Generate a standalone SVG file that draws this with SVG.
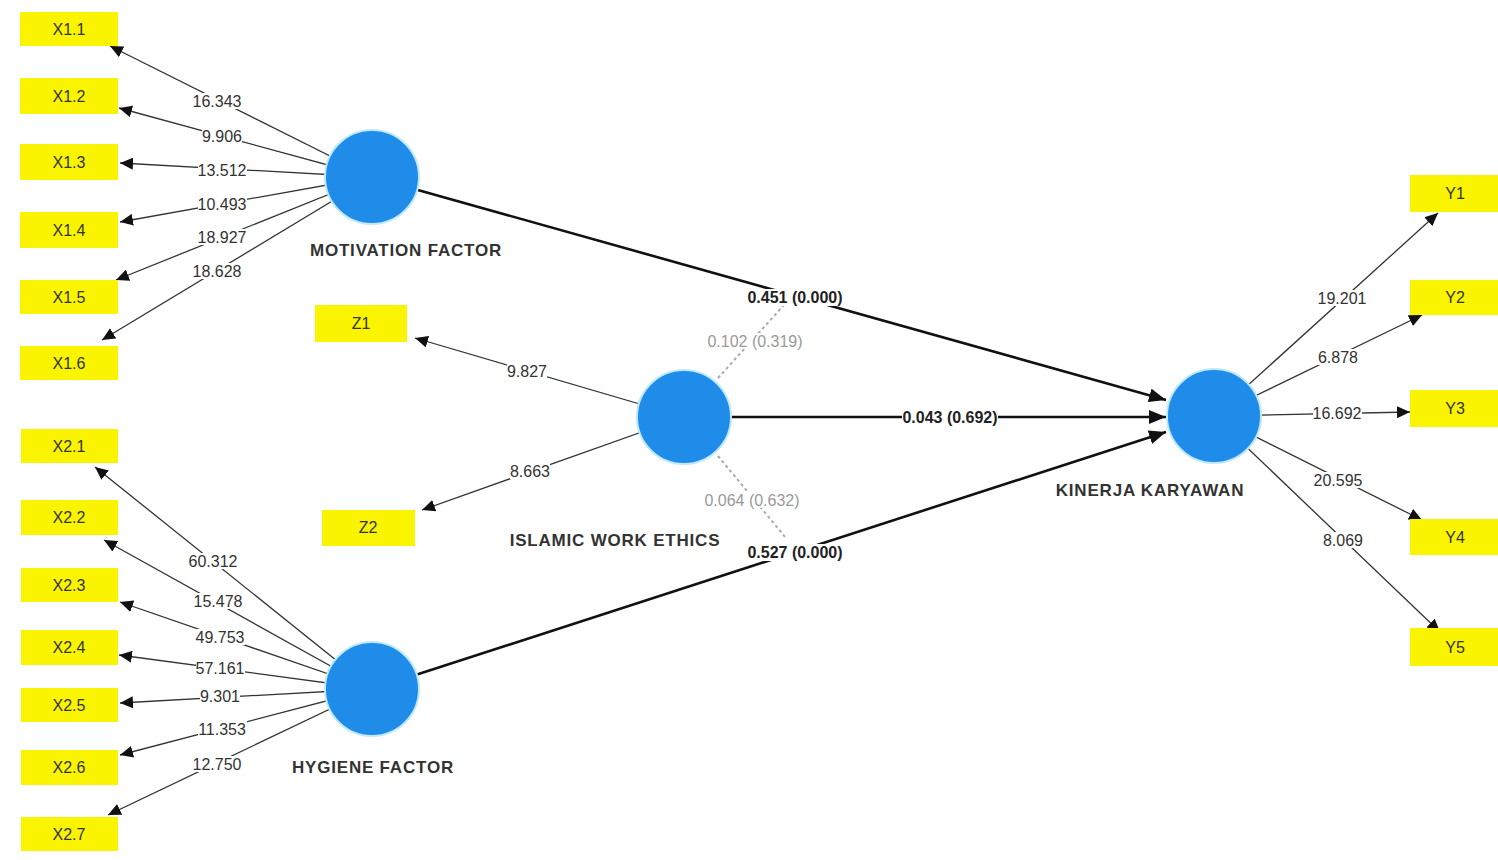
<svg xmlns="http://www.w3.org/2000/svg" width="1498" height="860" viewBox="0 0 1498 860">
<style>
.box{fill:#FAF400;}
.bt{font-family:"Liberation Sans",Arial,sans-serif;font-size:16px;fill:#333;text-anchor:middle;dominant-baseline:central;}
.lv{font-family:"Liberation Sans",Arial,sans-serif;font-size:16px;fill:#333;text-anchor:middle;dominant-baseline:central;}
.pv{font-family:"Liberation Sans",Arial,sans-serif;font-size:16px;font-weight:bold;fill:#222;text-anchor:middle;dominant-baseline:central;}
.gv{font-family:"Liberation Sans",Arial,sans-serif;font-size:16px;fill:#9a9a9a;text-anchor:middle;dominant-baseline:central;}
.bg{fill:#fff;}
.nl{font-family:"Liberation Sans",Arial,sans-serif;font-size:17px;font-weight:bold;letter-spacing:0.8px;fill:#333;text-anchor:middle;dominant-baseline:central;}
.ld{stroke:#333;stroke-width:1.3;fill:none;marker-end:url(#a);}
.pt{stroke:#111;stroke-width:2.6;fill:none;marker-end:url(#b);}
.ds{stroke:#aaa;stroke-width:2;stroke-dasharray:3 3;fill:none;}
.lv-c{fill:#1E8CE8;stroke:#BFE8FF;stroke-width:2;}
</style>
<defs>
<marker id="a" markerUnits="userSpaceOnUse" markerWidth="14" markerHeight="12" refX="13" refY="6" orient="auto"><path d="M0,0 L13,6 L0,12 z" fill="#111"/></marker>
<marker id="b" markerUnits="userSpaceOnUse" markerWidth="18" markerHeight="14" refX="17" refY="7" orient="auto"><path d="M0,0 L17,7 L0,14 z" fill="#111"/></marker>
</defs>
<rect width="1498" height="860" fill="#fff"/>
<g id="connectors">
<line class="ld" x1="372" y1="177" x2="110" y2="46"/>
<line class="ld" x1="372" y1="177" x2="119" y2="108"/>
<line class="ld" x1="372" y1="177" x2="120" y2="163"/>
<line class="ld" x1="372" y1="177" x2="120" y2="222"/>
<line class="ld" x1="372" y1="177" x2="116" y2="280"/>
<line class="ld" x1="372" y1="177" x2="102" y2="340"/>
<line class="ld" x1="372" y1="689" x2="95" y2="467"/>
<line class="ld" x1="372" y1="689" x2="104" y2="540"/>
<line class="ld" x1="372" y1="689" x2="120" y2="602"/>
<line class="ld" x1="372" y1="689" x2="119" y2="655"/>
<line class="ld" x1="372" y1="689" x2="120" y2="703"/>
<line class="ld" x1="372" y1="689" x2="120" y2="755"/>
<line class="ld" x1="372" y1="689" x2="108" y2="815"/>
<line class="ld" x1="684" y1="417" x2="415" y2="338"/>
<line class="ld" x1="684" y1="417" x2="422" y2="510"/>
<line class="ld" x1="1214" y1="416" x2="1438" y2="213"/>
<line class="ld" x1="1214" y1="416" x2="1422" y2="315"/>
<line class="ld" x1="1214" y1="416" x2="1410" y2="412"/>
<line class="ld" x1="1214" y1="416" x2="1422" y2="520"/>
<line class="ld" x1="1214" y1="416" x2="1440" y2="632"/>
<line class="pt" x1="400" y1="184.9" x2="1166" y2="400"/>
<line class="pt" x1="700" y1="417" x2="1166" y2="417"/>
<line class="pt" x1="400" y1="680" x2="1166" y2="432"/>
<line class="ds" x1="718" y1="378" x2="784" y2="305"/>
<line class="ds" x1="718" y1="456" x2="786" y2="538"/>
<rect class="bg" x="193" y="93" width="49" height="16"/><text class="lv" x="217" y="101">16.343</text>
<rect class="bg" x="202" y="128" width="40" height="16"/><text class="lv" x="222" y="136">9.906</text>
<rect class="bg" x="198" y="162" width="49" height="16"/><text class="lv" x="222" y="170">13.512</text>
<rect class="bg" x="198" y="196" width="49" height="16"/><text class="lv" x="222" y="204">10.493</text>
<rect class="bg" x="198" y="229" width="49" height="16"/><text class="lv" x="222" y="237">18.927</text>
<rect class="bg" x="193" y="263" width="49" height="16"/><text class="lv" x="217" y="271">18.628</text>
<rect class="bg" x="189" y="553" width="49" height="16"/><text class="lv" x="213" y="561">60.312</text>
<rect class="bg" x="194" y="593" width="49" height="16"/><text class="lv" x="218" y="601">15.478</text>
<rect class="bg" x="196" y="629" width="49" height="16"/><text class="lv" x="220" y="637">49.753</text>
<rect class="bg" x="196" y="660" width="49" height="16"/><text class="lv" x="220" y="668">57.161</text>
<rect class="bg" x="200" y="688" width="40" height="16"/><text class="lv" x="220" y="696">9.301</text>
<rect class="bg" x="198" y="721" width="49" height="16"/><text class="lv" x="222" y="729">11.353</text>
<rect class="bg" x="193" y="756" width="49" height="16"/><text class="lv" x="217" y="764">12.750</text>
<rect class="bg" x="507" y="363" width="40" height="16"/><text class="lv" x="527" y="371">9.827</text>
<rect class="bg" x="510" y="463" width="40" height="16"/><text class="lv" x="530" y="471">8.663</text>
<rect class="bg" x="1318" y="290" width="49" height="16"/><text class="lv" x="1342" y="298">19.201</text>
<rect class="bg" x="1318" y="349" width="40" height="16"/><text class="lv" x="1338" y="357">6.878</text>
<rect class="bg" x="1313" y="405" width="49" height="16"/><text class="lv" x="1337" y="413">16.692</text>
<rect class="bg" x="1314" y="472" width="49" height="16"/><text class="lv" x="1338" y="480">20.595</text>
<rect class="bg" x="1323" y="532" width="40" height="16"/><text class="lv" x="1343" y="540">8.069</text>
<rect class="bg" x="747" y="289" width="96" height="17"/><text class="pv" x="795" y="297">0.451 (0.000)</text>
<rect class="bg" x="902" y="409" width="96" height="17"/><text class="pv" x="950" y="417">0.043 (0.692)</text>
<rect class="bg" x="747" y="544" width="96" height="17"/><text class="pv" x="795" y="552">0.527 (0.000)</text>
<rect class="bg" x="707" y="333" width="96" height="16"/><text class="gv" x="755" y="341">0.102 (0.319)</text>
<rect class="bg" x="704" y="492" width="96" height="16"/><text class="gv" x="752" y="500">0.064 (0.632)</text>
</g>
<g id="X1.1"><rect class="box" x="20" y="12" width="98" height="34"/><text class="bt" x="69" y="29">X1.1</text></g>
<g id="X1.2"><rect class="box" x="20" y="78" width="98" height="36"/><text class="bt" x="69" y="96">X1.2</text></g>
<g id="X1.3"><rect class="box" x="20" y="144" width="98" height="36"/><text class="bt" x="69" y="162">X1.3</text></g>
<g id="X1.4"><rect class="box" x="20" y="212" width="98" height="36"/><text class="bt" x="69" y="230">X1.4</text></g>
<g id="X1.5"><rect class="box" x="20" y="280" width="98" height="34"/><text class="bt" x="69" y="297">X1.5</text></g>
<g id="X1.6"><rect class="box" x="20" y="346" width="98" height="34"/><text class="bt" x="69" y="363">X1.6</text></g>
<g id="X2.1"><rect class="box" x="21" y="429" width="97" height="34"/><text class="bt" x="69" y="446">X2.1</text></g>
<g id="X2.2"><rect class="box" x="21" y="500" width="97" height="35"/><text class="bt" x="69" y="517">X2.2</text></g>
<g id="X2.3"><rect class="box" x="21" y="568" width="97" height="34"/><text class="bt" x="69" y="585">X2.3</text></g>
<g id="X2.4"><rect class="box" x="21" y="630" width="97" height="35"/><text class="bt" x="69" y="647">X2.4</text></g>
<g id="X2.5"><rect class="box" x="21" y="688" width="97" height="34"/><text class="bt" x="69" y="705">X2.5</text></g>
<g id="X2.6"><rect class="box" x="21" y="750" width="97" height="35"/><text class="bt" x="69" y="767">X2.6</text></g>
<g id="X2.7"><rect class="box" x="21" y="817" width="97" height="34"/><text class="bt" x="69" y="834">X2.7</text></g>
<g id="Z1"><rect class="box" x="315" y="305" width="92" height="37"/><text class="bt" x="361" y="323">Z1</text></g>
<g id="Z2"><rect class="box" x="322" y="510" width="93" height="36"/><text class="bt" x="368" y="527">Z2</text></g>
<g id="Y1"><rect class="box" x="1410" y="175" width="88" height="37"/><text class="bt" x="1455" y="193">Y1</text></g>
<g id="Y2"><rect class="box" x="1410" y="280" width="88" height="35"/><text class="bt" x="1455" y="297">Y2</text></g>
<g id="Y3"><rect class="box" x="1410" y="390" width="88" height="37"/><text class="bt" x="1455" y="408">Y3</text></g>
<g id="Y4"><rect class="box" x="1410" y="519" width="88" height="36"/><text class="bt" x="1455" y="537">Y4</text></g>
<g id="Y5"><rect class="box" x="1410" y="628" width="88" height="38"/><text class="bt" x="1455" y="647">Y5</text></g>
<g id="motivation"><circle class="lv-c" cx="372" cy="177" r="47"/><text class="nl" x="406" y="250">MOTIVATION FACTOR</text></g>
<g id="hygiene"><circle class="lv-c" cx="372" cy="689" r="47"/><text class="nl" x="373" y="767">HYGIENE FACTOR</text></g>
<g id="iwe"><circle class="lv-c" cx="684" cy="417" r="47"/><text class="nl" x="615" y="540">ISLAMIC WORK ETHICS</text></g>
<g id="kinerja"><circle class="lv-c" cx="1214" cy="416" r="47"/><text class="nl" x="1150" y="490">KINERJA KARYAWAN</text></g>
</svg>
